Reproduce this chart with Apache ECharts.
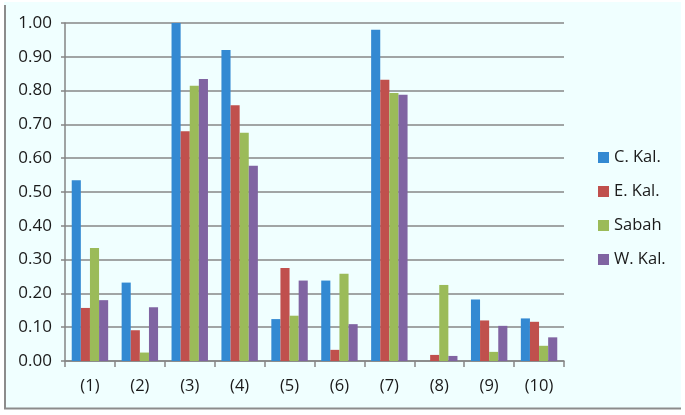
<!DOCTYPE html>
<html><head><meta charset="utf-8">
<script src="https://cdn.jsdelivr.net/npm/echarts@6/dist/echarts.min.js"></script>
<style>html,body{margin:0;padding:0;background:#fff}#c{width:685px;height:415px}</style>
</head><body><div id="c"></div>
<script>
const categories = ['(1)','(2)','(3)','(4)','(5)','(6)','(7)','(8)','(9)','(10)'];
const seriesNames = ['C. Kal.','E. Kal.','Sabah','W. Kal.'];
const cKal  = [0.535, 0.232, 1.000, 0.920, 0.124, 0.238, 0.980, 0.000, 0.182, 0.126];
const eKal  = [0.157, 0.091, 0.680, 0.757, 0.275, 0.033, 0.832, 0.018, 0.120, 0.116];
const sabah = [0.334, 0.025, 0.814, 0.675, 0.134, 0.258, 0.793, 0.225, 0.027, 0.045];
const wKal  = [0.180, 0.159, 0.834, 0.578, 0.238, 0.109, 0.788, 0.015, 0.104, 0.070];
const colors = ['#3389D2','#C0504D','#9BBB59','#8064A2'];

const chart = echarts.init(document.getElementById('c'));
const font = '"Open Sans", sans-serif';
const data = [cKal, eKal, sabah, wKal];
chart.setOption({
  animation: false,
  graphic: [
    {type:'rect', shape:{x:4, y:2, width:677, height:407}, style:{fill:'#F0FFFF'}, z:-10},
    {type:'line', shape:{x1:5, y1:5, x2:5, y2:409}, style:{stroke:'#8C8C8C', lineWidth:2}, z:-9},
    {type:'line', shape:{x1:4, y1:408.5, x2:681, y2:408.5}, style:{stroke:'#8C8C8C', lineWidth:2}, z:-9}
  ],
  grid: {left: 65, right: 121, top: 23, bottom: 54},
  legend: {
    orient: 'vertical', left: 593, top: 144,
    itemWidth: 11, itemHeight: 11, itemGap: 17, icon: 'rect',
    textStyle: {fontFamily: font, fontSize: 16.5, color: '#1a1a1a'},
    data: seriesNames
  },
  xAxis: {
    type: 'category', data: categories,
    axisLine: {lineStyle: {color: '#858585', width: 1.5}},
    axisTick: {show: true, length: 6, lineStyle: {color: '#858585', width: 1.5}},
    axisLabel: {fontFamily: font, fontSize: 16.5, color: '#1a1a1a', margin: 17}
  },
  yAxis: {
    type: 'value', min: 0, max: 1, interval: 0.1,
    axisLine: {show: true, lineStyle: {color: '#858585', width: 1.5}},
    axisTick: {show: true, length: 4, lineStyle: {color: '#858585', width: 1.5}},
    splitLine: {lineStyle: {color: '#878787', width: 1.5}},
    axisLabel: {fontFamily: font, fontSize: 17, color: '#1a1a1a', margin: 13,
      formatter: v => v.toFixed(2)}
  },
  series: seriesNames.map((n, i) => ({
    name: n, type: 'bar', data: data[i],
    barGap: '0%', barCategoryGap: '27%',
    itemStyle: {color: colors[i]}
  }))
});
</script></body></html>
